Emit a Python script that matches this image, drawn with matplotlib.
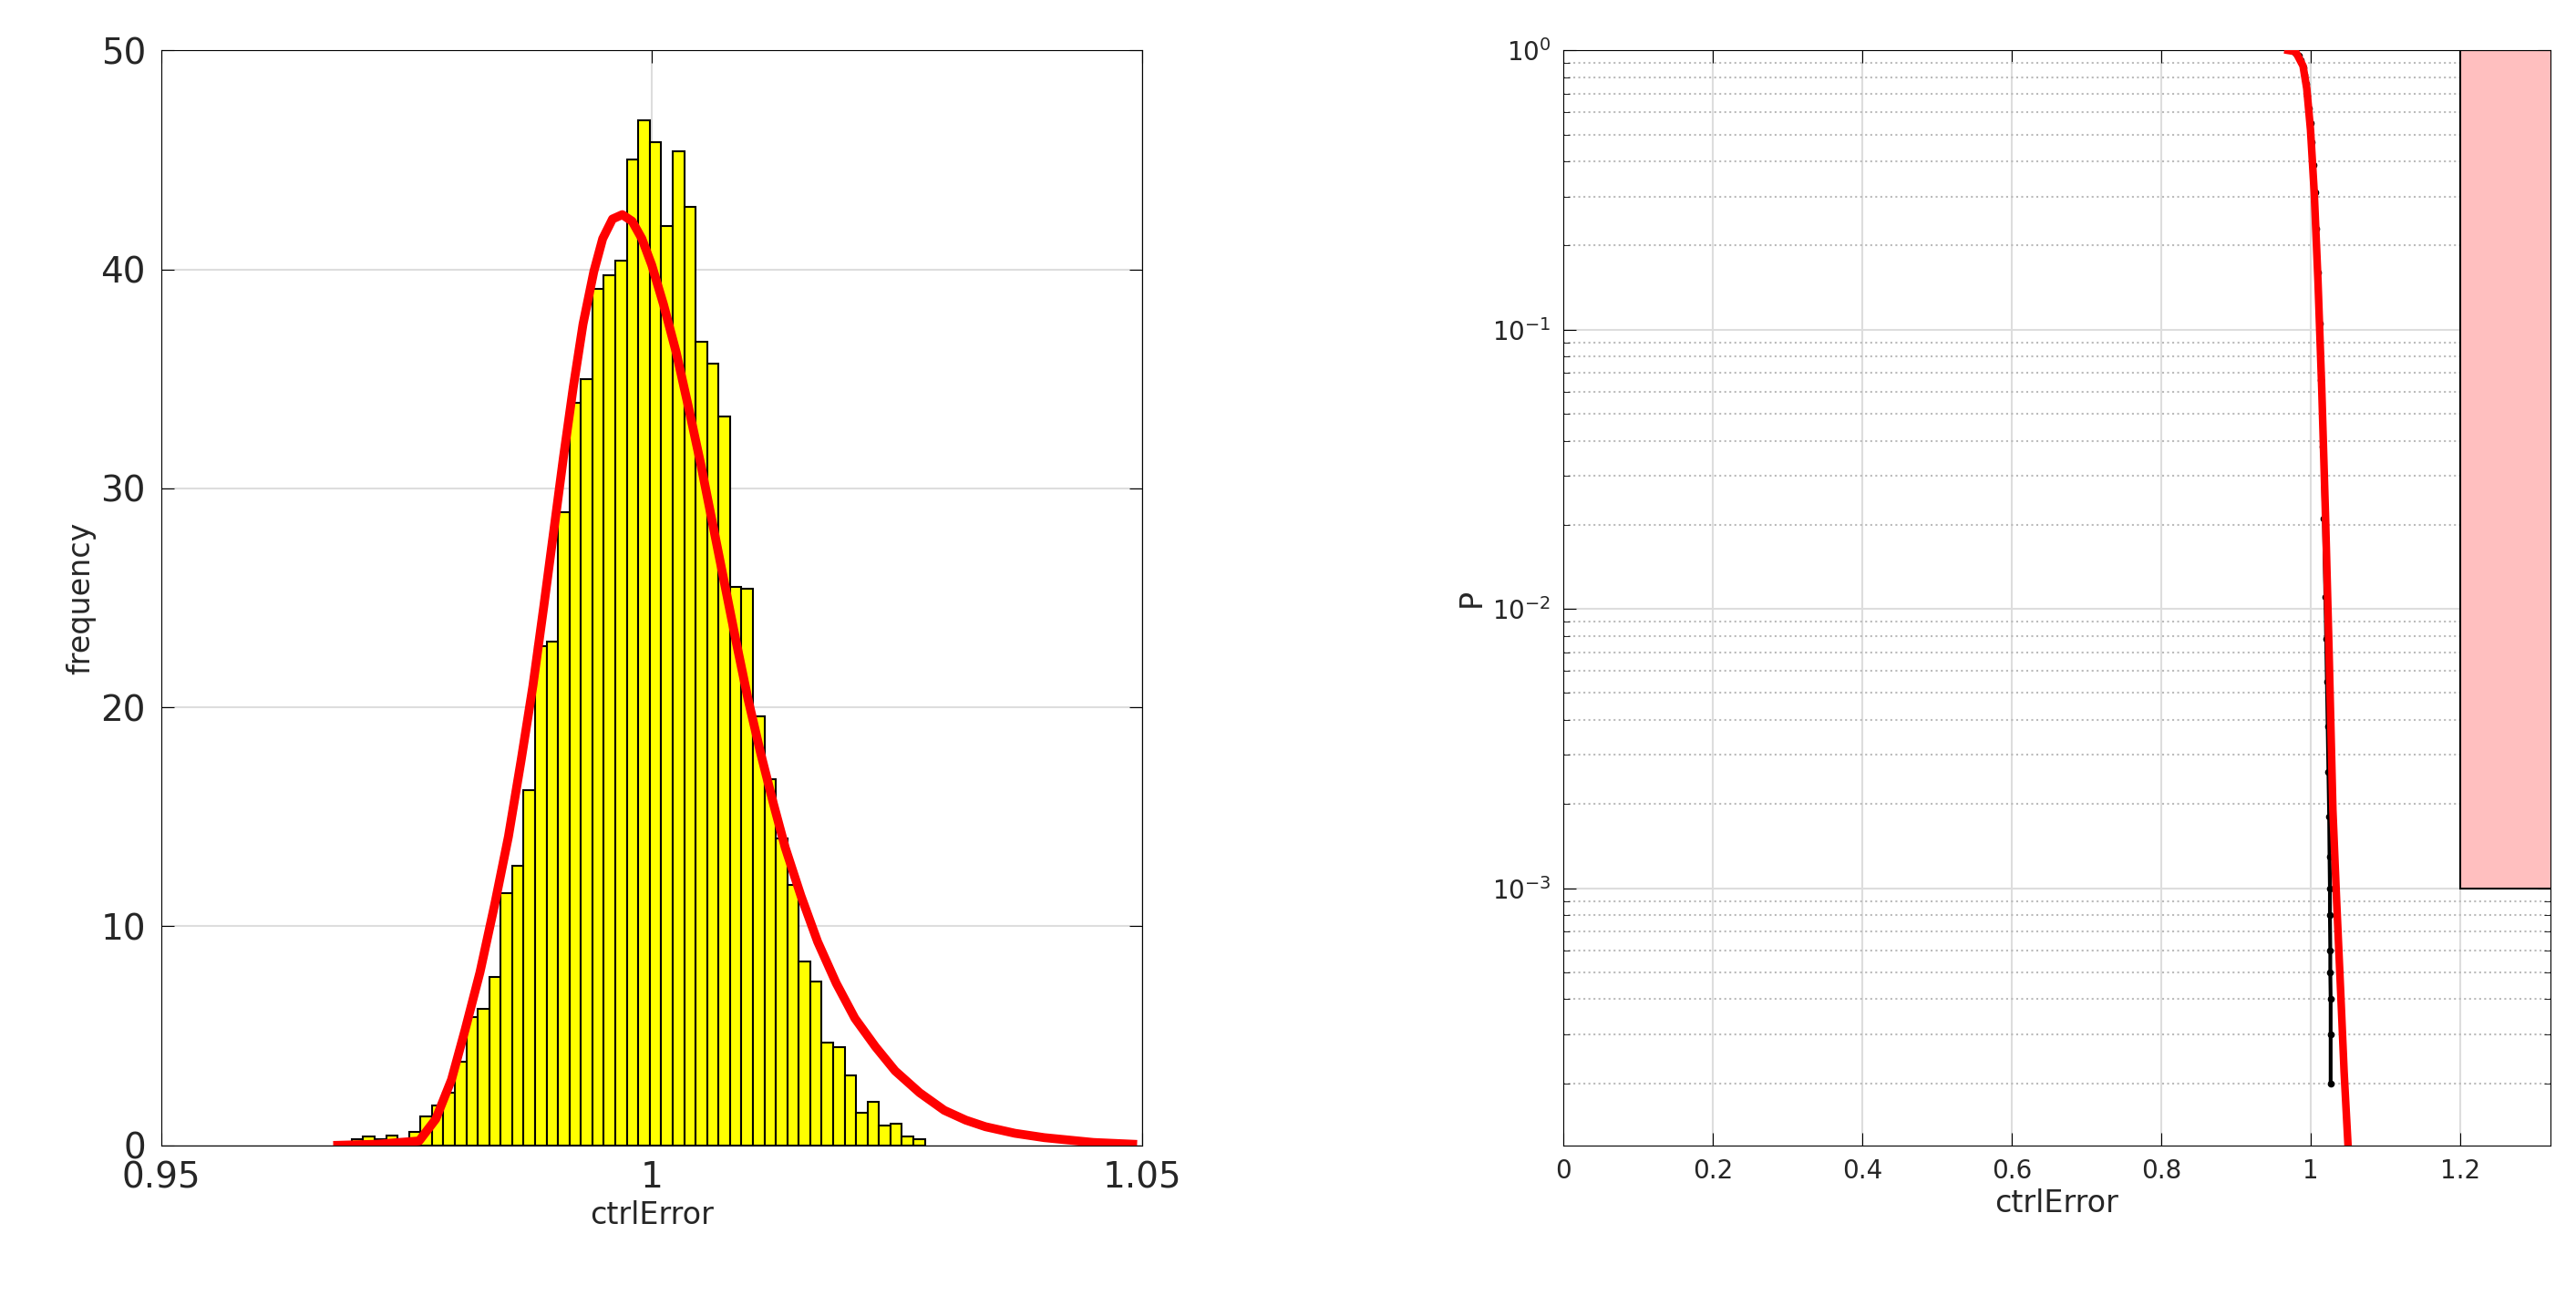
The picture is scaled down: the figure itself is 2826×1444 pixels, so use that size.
import matplotlib
matplotlib.use("Agg")
import matplotlib.pyplot as plt
import numpy as np
from matplotlib.patches import Rectangle

# histogram of ctrlError
bin_start = 0.96943
bin_width = 0.001168
counts = [0.3, 0.4, 0.3, 0.45, 0.3, 0.6, 1.3, 1.8, 2.4, 3.8,
          5.85, 6.25, 7.7, 11.5, 12.75, 16.2, 22.8, 23.0, 28.9, 33.9,
          35.0, 39.1, 39.75, 40.4, 45.0, 46.8, 45.8, 42.0, 45.4, 42.85,
          36.7, 35.7, 33.3, 25.5, 25.4, 19.6, 16.7, 14.0, 11.9, 8.4,
          7.5, 4.7, 4.5, 3.2, 1.5, 2.0, 0.9, 1.0, 0.4, 0.3]

# fitted density curve
fit_x = [0.9680, 0.9720, 0.9763, 0.9780, 0.9796, 0.9810, 0.9825, 0.9840, 0.9854,
         0.9867, 0.9879, 0.9890, 0.9900, 0.9910, 0.9920, 0.9930, 0.9941, 0.9950,
         0.9960, 0.9970, 0.9980, 0.9990, 1.0000, 1.0012, 1.0025, 1.0037, 1.0050,
         1.0062, 1.0074, 1.0086, 1.0098, 1.0111, 1.0124, 1.0136, 1.0152, 1.0169,
         1.0188, 1.0207, 1.0228, 1.0248, 1.0273, 1.0298, 1.0320, 1.0340, 1.0370,
         1.0400, 1.0450, 1.0490]
fit_y = [0.0, 0.05, 0.2, 1.2, 3.0, 5.3, 7.9, 11.0, 14.1,
         17.6, 21.0, 24.6, 28.0, 31.4, 34.6, 37.5, 39.9, 41.4,
         42.3, 42.5, 42.2, 41.4, 40.2, 38.4, 36.2, 33.8, 31.1,
         28.4, 25.7, 23.0, 20.4, 17.9, 15.6, 13.6, 11.4, 9.3,
         7.4, 5.8, 4.5, 3.4, 2.4, 1.6, 1.15, 0.85, 0.55,
         0.35, 0.13, 0.05]

# empirical exceedance probability
emp_x = [0.975, 0.978, 0.981, 0.984, 0.987, 0.990, 0.992, 0.994, 0.996, 0.998,
         1.000, 1.002, 1.004, 1.006, 1.008, 1.010, 1.012, 1.014, 1.016, 1.018,
         1.020, 1.021, 1.022, 1.023, 1.024, 1.025, 1.0255, 1.026, 1.026, 1.0265,
         1.0265, 1.027, 1.027]
emp_p = [1.0, 0.99, 0.975, 0.955, 0.925, 0.87, 0.82, 0.76, 0.69, 0.62,
         0.55, 0.47, 0.39, 0.31, 0.23, 0.16, 0.105, 0.066, 0.038, 0.021,
         0.011, 0.0078, 0.0055, 0.0038, 0.0026, 0.0018, 0.0013, 0.001, 0.0008, 0.0006,
         0.0005, 0.0004, 0.0003]
emp_x += [1.027]
emp_p += [0.0002]
# fitted exceedance curve
tail_x = [0.970, 0.980, 0.990, 0.995, 1.000, 1.005, 1.010, 1.015, 1.020, 1.025,
          1.030, 1.035, 1.040, 1.045, 1.051]
tail_p = [1.0, 0.99, 0.88, 0.73, 0.52, 0.31, 0.15, 0.062, 0.022, 0.0068,
          0.0019, 0.0009, 0.00045, 0.00022, 0.00011]

# forbidden region
limit_x = 1.2
limit_p = 1e-3

TXT = "#262626"
fig = plt.figure(figsize=(28.26, 14.44), dpi=100)

ax1 = fig.add_axes([0.0625, 0.1297, 0.381, 0.832])
edges = bin_start + bin_width * np.arange(len(counts))
ax1.bar(edges, counts, width=bin_width, align="edge", color="yellow",
        edgecolor="black", linewidth=1.5, zorder=2)
ax1.plot(fit_x, fit_y, color="red", linewidth=7, zorder=3, solid_joinstyle="round")
ax1.set_xlim(0.95, 1.05)
ax1.set_ylim(0, 50)
ax1.set_xticks([0.95, 1, 1.05], ["0.95", "1", "1.05"])
ax1.set_yticks(range(0, 51, 10))
ax1.tick_params(labelsize=28, labelcolor=TXT, direction="in", length=10,
                top=True, right=True, pad=12)
ax1.grid(True, color="#dddddd", linewidth=1.5, zorder=0)
ax1.set_axisbelow(True)
ax1.set_xlabel("ctrlError", fontsize=24, color=TXT)
ax1.set_ylabel("frequency", fontsize=24, color=TXT)

ax2 = fig.add_axes([0.607, 0.1297, 0.383, 0.832])
ax2.set_yscale("log")
ax2.add_patch(Rectangle((limit_x, limit_p), 0.2, 1 - limit_p, facecolor="#ffbfbf",
                        edgecolor="black", linewidth=1.5, zorder=1))
ax2.plot(emp_x, emp_p, ".", color="black", markersize=9, zorder=3)
ax2.plot(emp_x, emp_p, "-", color="black", linewidth=3, zorder=3)
ax2.plot(tail_x, tail_p, color="red", linewidth=6, zorder=4)
ax2.set_xlim(0, 1.321)
ax2.set_ylim(1.2e-4, 1)
ax2.set_xticks(np.arange(0, 1.21, 0.2), ["0", "0.2", "0.4", "0.6", "0.8", "1", "1.2"])
ax2.set_yticks([1e-3, 1e-2, 1e-1, 1])
ax2.tick_params(labelsize=20, labelcolor=TXT, direction="in", length=10,
                top=True, right=True, pad=10)
ax2.tick_params(which="minor", direction="in", length=5, right=True)
ax2.grid(True, which="major", color="#dddddd", linewidth=1.5, zorder=0)
ax2.grid(True, which="minor", axis="y", color="#bbbbbb", linestyle=":", linewidth=1.5)
ax2.set_axisbelow(True)
ax2.set_xlabel("ctrlError", fontsize=24, color=TXT)
ax2.set_ylabel("P", fontsize=24, color=TXT)

fig.savefig("out.png", dpi=100)
